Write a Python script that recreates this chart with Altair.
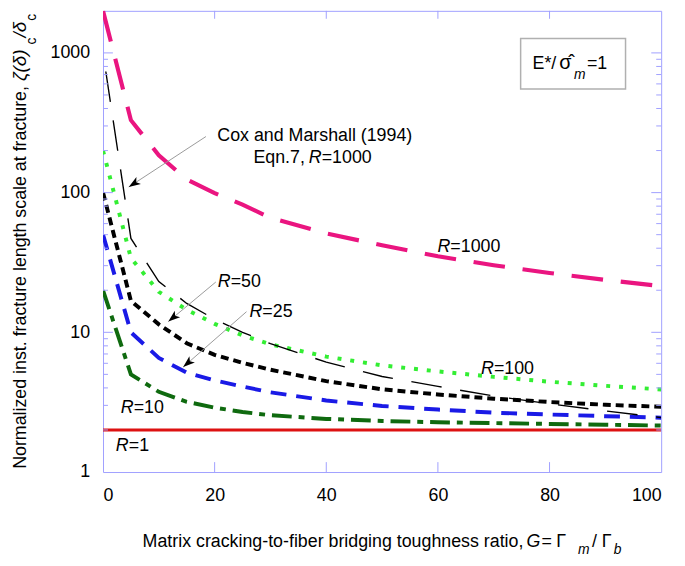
import altair as alt
import pandas as pd

# ---- data ----
G = [0, 5, 10, 15, 20, 25, 30, 40, 50, 60, 70, 80, 90, 100]
R1000 = [2000, 330, 185, 124, 99, 82, 66, 51, 42, 35, 30.2, 26.6, 23.7, 21.4]
R100 = [200, 34, 19.5, 14.5, 11.5, 9.5, 8.2, 6.7, 5.8, 5.25, 4.8, 4.43, 4.14, 3.9]
R50 = [100, 16.8, 11.4, 8.35, 6.9, 6.05, 5.4, 4.47, 3.91, 3.59, 3.35, 3.17, 3.03, 2.93]
R25 = [50, 10.0, 6.56, 5.14, 4.53, 4.09, 3.72, 3.25, 2.97, 2.80, 2.66, 2.58, 2.51, 2.45]
R10 = [20, 5.0, 3.75, 3.18, 2.89, 2.69, 2.55, 2.40, 2.32, 2.27, 2.24, 2.21, 2.18, 2.15]
R1 = [2, 2, 2, 2, 2, 2, 2, 2, 2, 2, 2, 2, 2, 2]
CM = [1000, 47, 23.1, 16.1, 12.4, 10.0, 8.3, 6.12, 4.83, 4.10, 3.50, 3.08, 2.74, 2.45]

x_labels = [0, 20, 40, 60, 80, 100]
y_labels = [1, 10, 100, 1000]
x_ticks = [20, 40, 60, 80]
y_major = [10, 100, 1000]
y_minor = [2, 3, 4, 5, 6, 7, 8, 9, 20, 30, 40, 50, 60, 70, 80, 90,
           200, 300, 400, 500, 600, 700, 800, 900]

series = {"R1": R1, "R10": R10, "R25": R25, "R50": R50, "R100": R100,
          "R1000": R1000, "CM": CM}
rows = []
for name, vals in series.items():
    for g, v in zip(G, vals):
        rows.append({"G": g, "v": v, "s": name})
df = pd.DataFrame(rows)

FONT = "Liberation Sans"
FRAME = "#a0a0ff"
W, H = 564, 466

xscale = alt.Scale(domain=[0, 100], nice=False, zero=False)
yscale = alt.Scale(type="log", domain=[1, 2000], nice=False)
xaxis = alt.Axis(values=x_labels, format="d", title=None, labelPadding=15,
                 tickSize=0, ticks=False, domain=False, grid=False)
yaxis = alt.Axis(values=y_labels, format="d", title=None, labelPadding=13.5,
                 tickSize=0, ticks=False, domain=False, grid=False,
                 labelBaseline="middle")
XE = alt.X("G:Q", scale=xscale, axis=xaxis)
YE = alt.Y("v:Q", scale=yscale, axis=yaxis)

base = alt.Chart(df).encode(x=XE, y=YE)

def line(name, color, width, dash=None, offset=None):
    props = dict(color=color, strokeWidth=width, clip=True)
    if dash is not None:
        props["strokeDash"] = dash
    if offset is not None:
        props["strokeDashOffset"] = offset
    return base.transform_filter(alt.datum.s == name).mark_line(**props)

lines = [
    line("R1", "#dd1111", 3.2),
    line("R10", "#0f6a0f", 4, [20, 7, 6, 7]),
    line("R25", "#1a1ae6", 4, [16, 10]),
    line("R50", "#000000", 4, [8, 5]),
    line("R100", "#33ee33", 4, [4, 9]),
    line("R1000", "#ea1580", 4.2, [32, 18]),
    line("CM", "#000000", 1.4, [31, 19], 31),
]

# ---- inner ticks ----
def yticks(vals, x1, x2):
    return alt.Chart(pd.DataFrame({"v": vals})).mark_rule(
        color=FRAME, strokeWidth=1).encode(
        y=YE, x=alt.value(x1), x2=alt.value(x2))

def xticks(vals, y1, y2):
    return alt.Chart(pd.DataFrame({"G": vals})).mark_rule(
        color=FRAME, strokeWidth=1).encode(
        x=XE, y=alt.value(y1), y2=alt.value(y2))

ticks = [
    yticks(y_major, 0, 10), yticks(y_minor, 0, 5),
    yticks(y_major, W, W - 10), yticks(y_minor, W, W - 5),
    xticks(x_ticks, H, H - 10), xticks(x_ticks, 0, 8),
]

# ---- annotations ----
dummy = pd.DataFrame({"a": [0]})

def T(text, cx, cy, size=18, style="normal", align="left", angle=0):
    return alt.Chart(dummy).mark_text(
        text=text, align=align, baseline="alphabetic", fontSize=size,
        fontStyle=style, font=FONT, angle=angle, color="black").encode(
        x=alt.value(cx), y=alt.value(cy))

def Rlabel(cx, cy, rest):
    return [T("R", cx, cy, style="italic"), T(rest, cx + 13, cy)]

ARROW = "M0,0 L0.7,2 L0,1.5 L-0.7,2 Z"

def arrow(x1, y1, x2, y2, ang):
    r = alt.Chart(dummy).mark_rule(color="#9a9a9a", strokeWidth=1).encode(
        x=alt.value(x1), y=alt.value(y1), x2=alt.value(x2), y2=alt.value(y2))
    h = alt.Chart(dummy).mark_point(
        shape=ARROW, filled=True, color="black", size=144, angle=ang,
        opacity=1, strokeWidth=0).encode(x=alt.value(x2), y=alt.value(y2))
    return [r, h]

ann = []
ann += [T("Cox and Marshall (1994)", 214, 132, align="center"),
        T("Eqn.7,", 152, 154), T("R", 208, 154, style="italic"), T("=1000", 221, 154)]
ann += arrow(104, 127, 26, 178, 237)
ann += Rlabel(116, 279, "=50") + arrow(114, 274, 66, 314, 230)
ann += Rlabel(148, 309, "=25") + arrow(145, 304, 81, 360, 229)
ann += Rlabel(18, 406, "=10")
ann += Rlabel(13, 445, "=1")
ann += Rlabel(338, 244, "=1000")
ann += Rlabel(382, 367, "=100")

# legend box
box = alt.Chart(dummy).mark_rect(fill="white", stroke="#b0b0b0", strokeWidth=1.5).encode(
    x=alt.value(422), x2=alt.value(528), y=alt.value(28), y2=alt.value(79))
ann += [box,
        T("E*/", 434, 59), T("σ\u0302", 461, 59, size=20),
        T("m", 476, 69, size=14, style="italic"), T("=1", 489, 59)]

# axis titles
ann += [T("Matrix cracking-to-fiber bridging toughness ratio,", 40, 542),
        T("G", 428, 542, style="italic"), T("=", 443, 542), T("Γ", 458, 542),
        T("m", 480, 549, size=14, style="italic"), T("/", 494, 542), T("Γ", 504, 542),
        T("b", 516, 549, size=14, style="italic")]
ann += [T("Normalized inst. fracture length scale at fracture,", -78, 76, align="right", angle=270),
        T("ζ(δ)", -78, 71, size=19, style="italic", angle=270),
        T("c", -68, 34, size=14, angle=270),
        T("/δ", -78, 27, size=19, style="italic", angle=270),
        T("c", -68, 10, size=14, angle=270)]

chart = alt.layer(*lines, *ticks, *ann).properties(
    width=W, height=H,
    autosize=alt.AutoSizeParams(type="none"),
    padding={"left": 96, "top": 0, "right": 16, "bottom": 84},
).configure_view(stroke=FRAME, strokeWidth=1).configure_axis(
    labelFont=FONT, labelFontSize=18, labelColor="black",
)

chart.save("out.html", embed_options={"renderer": "svg", "actions": False})
